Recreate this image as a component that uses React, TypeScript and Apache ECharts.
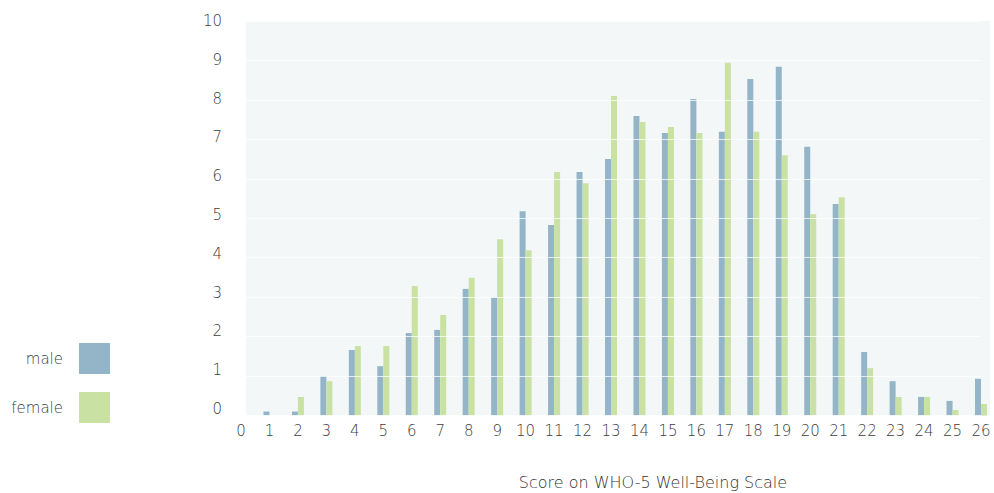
import React, { useEffect, useRef } from "react";
import * as echarts from "echarts";

const scores = Array.from({ length: 27 }, (_, i) => String(i));
const male = [0, 0.1, 0.1, 1.0, 1.66, 1.25, 2.09, 2.17, 3.21, 3.0, 5.18, 4.83, 6.17, 6.5, 7.59, 7.16, 8.02, 7.19, 8.53, 8.84, 6.81, 5.36, 1.61, 0.87, 0.47, 0.37, 0.93];
const female = [0, 0, 0.47, 0.87, 1.76, 1.76, 3.28, 2.55, 3.49, 4.47, 4.19, 6.17, 5.89, 8.1, 7.44, 7.31, 7.16, 8.94, 7.19, 6.6, 5.1, 5.53, 1.2, 0.47, 0.47, 0.14, 0.29];
const yTicks = [0, 1, 2, 3, 4, 5, 6, 7, 8, 9, 10];

const FONT = "'DejaVu Sans', Lato, sans-serif";
const WEIGHT = 200;
const MALE_COLOR = "#93b5c7";
const FEMALE_COLOR = "#c9e2a3";
const TEXT_COLOR = "#3c3c3c";

export default function App() {
  const ref = useRef<HTMLDivElement>(null);

  useEffect(() => {
    if (!ref.current) return;
    const chart = echarts.init(ref.current, null, { renderer: "svg" });
    chart.setOption({
      animation: false,
      textStyle: { fontFamily: FONT, fontWeight: WEIGHT },
      grid: { left: 241, right: 13, top: 21, bottom: 493 - 415.5, containLabel: false },
      graphic: [
        {
          type: "rect",
          z: -10,
          shape: { x: 246, y: 21, width: 744, height: 394.5 },
          style: { fill: "#f3f7f8" },
        },
        {
          type: "text",
          x: 653,
          y: 482,
          style: {
            text: "Score on WHO-5 Well-Being Scale",
            font: `${WEIGHT} 16px ${FONT}`,
            fill: "#333",
            align: "center",
            verticalAlign: "middle",
          },
        },
      ],
      legend: {
        orient: "vertical",
        right: 994 - 110 - 5,
        top: 343 - 5,
        align: "right",
        itemWidth: 31,
        itemHeight: 31,
        itemGap: 18,
        icon: "rect",
        textStyle: {
          fontFamily: FONT,
          fontWeight: WEIGHT,
          fontSize: 15,
          color: TEXT_COLOR,
          padding: [0, 11, 0, 0],
        },
        data: ["male", "female"],
      },
      xAxis: {
        type: "category",
        data: scores,
        boundaryGap: false,
        axisLine: { show: false },
        axisTick: { show: false },
        axisLabel: { color: TEXT_COLOR, fontSize: 15, margin: 8, fontFamily: FONT, fontWeight: WEIGHT },
      },
      yAxis: [
        {
          type: "value",
          min: 0,
          max: 10,
          interval: 1,
          z: 5,
          axisLine: { show: false },
          axisTick: { show: false },
          axisLabel: { show: false },
          splitLine: { lineStyle: { color: "rgba(255,255,255,0.75)", width: 1 } },
        },
        {
          type: "value",
          min: -0.1675,
          max: 10,
          position: "left",
          axisLine: { show: false },
          axisTick: { show: false },
          splitLine: { show: false },
          axisLabel: {
            color: TEXT_COLOR,
            fontSize: 15,
            margin: 19,
            fontFamily: FONT,
            fontWeight: WEIGHT,
            customValues: yTicks,
          },
        },
      ],
      series: [
        {
          name: "male",
          type: "bar",
          data: male,
          yAxisIndex: 0,
          barWidth: 6,
          barGap: "0%",
          clip: false,
          itemStyle: { color: MALE_COLOR },
        },
        {
          name: "female",
          type: "bar",
          data: female,
          yAxisIndex: 0,
          barWidth: 6,
          barGap: "0%",
          clip: false,
          itemStyle: { color: FEMALE_COLOR },
        },
      ],
    });
    return () => chart.dispose();
  }, []);

  return <div ref={ref} style={{ width: 994, height: 493, position: "absolute", left: 0, top: 0 }} />;
}
